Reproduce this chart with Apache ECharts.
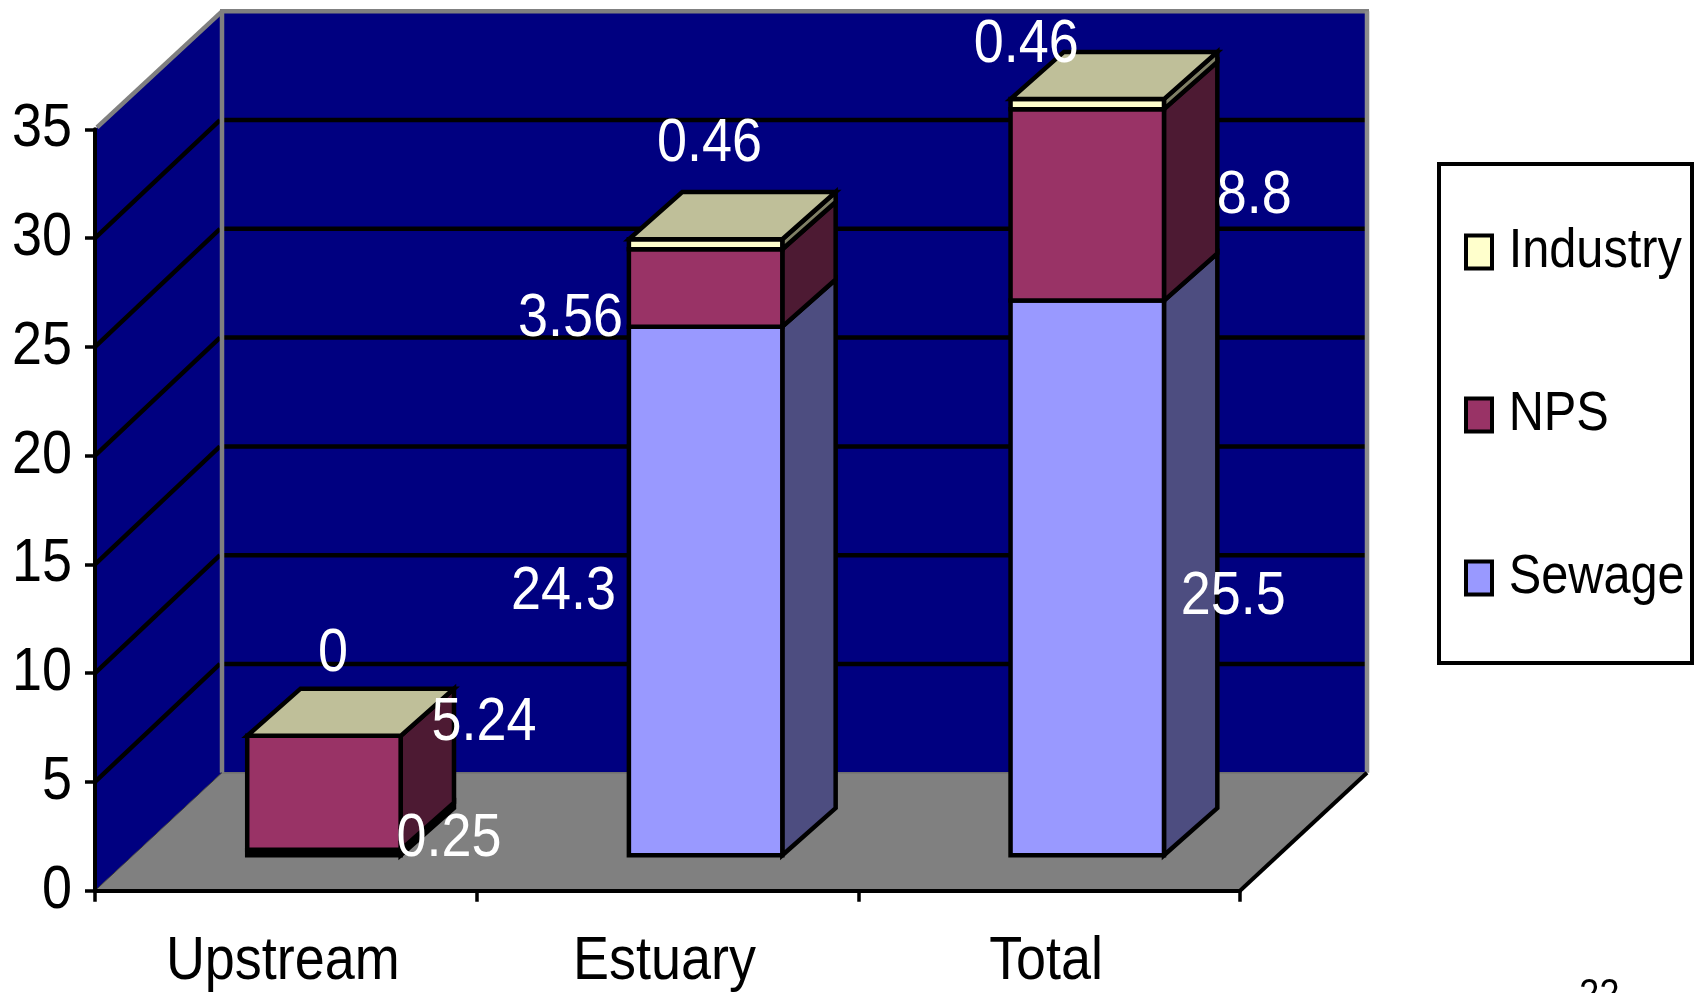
<!DOCTYPE html>
<html>
<head>
<meta charset="utf-8">
<title>Load by source</title>
<style>
  html, body { margin: 0; padding: 0; background: #fff; overflow: hidden; }
  #chart { width: 1703px; height: 993px; }
</style>
<script src="https://cdn.jsdelivr.net/npm/echarts@6/dist/echarts.min.js"></script>
</head>
<body>
<div id="chart"></div>
<script>
// Chart data
const categories = ['Upstream', 'Estuary', 'Total'];
const sewage = [0.25, 24.3, 25.5];
const nps = [5.24, 3.56, 8.8];
const industry = [0, 0.46, 0.46];
const yTicks = [0, 5, 10, 15, 20, 25, 30, 35];

// Where each value label sits relative to the middle of its segment
const sewageLabelShift = [[125, -14], [-142, 1], [146, 19]];
const npsLabelShift = [[160, -70], [-135, 31], [167, -9]];
const industryLabelShift = [[9, -82], [4, -100], [-61, -59]];

const FONT = '"Liberation Sans", Arial, sans-serif';
const TEXT_CONDENSE = 0.87;                // all lettering is set slightly condensed
const DEPTH_X = 127, DEPTH_Y = 118;        // oblique projection of the full floor depth
const BAR_FRONT = 0.3;                     // front bar face as a fraction of that depth
const BAR_BACK_X = 0.72, BAR_BACK_Y = 0.7; // back bar face, horizontally and vertically
const BAR_WIDTH = 0.402;                   // bar width as a fraction of the category band
const LINE = 4.5;

const layers = [
  { name: 'Sewage', values: sewage, shift: sewageLabelShift, front: '#9999FF', side: '#4D4D80', top: '#7373BF' },
  { name: 'NPS', values: nps, shift: npsLabelShift, front: '#993366', side: '#4D1A33', top: '#73264D' },
  { name: 'Industry', values: industry, shift: industryLabelShift, front: '#FFFFCC', side: '#808066', top: '#BFBF99' }
];

function poly(points, fill, z2) {
  return {
    type: 'polygon', z2: z2 || 0,
    shape: { points },
    style: { fill, stroke: '#000', lineWidth: LINE, lineJoin: 'miter' }
  };
}

function line(x1, y1, x2, y2, stroke, width, z2) {
  return {
    type: 'line', z2: z2 || 1,
    shape: { x1, y1, x2, y2 },
    style: { stroke, lineWidth: width, lineCap: 'butt' }
  };
}

// Walls, floor and gridlines of the 3D box, one element group per y tick
function renderBox(params, api) {
  const tick = api.value(0);
  const g = params.coordSys;
  const y = api.coord([0, tick])[1];
  const L = g.x, R = g.x + g.width, T = g.y, B = g.y + g.height;
  const kids = [];
  if (params.dataIndex === 0) {
    const navy = '#000080', grey = '#808080';
    kids.push({
      type: 'polygon',
      shape: { points: [[L, T], [L + DEPTH_X, T - DEPTH_Y], [L + DEPTH_X, B - DEPTH_Y], [L, B]] },
      style: { fill: navy }
    });
    kids.push({
      type: 'rect',
      shape: { x: L + DEPTH_X, y: T - DEPTH_Y, width: g.width, height: g.height },
      style: { fill: navy }
    });
    kids.push({
      type: 'polygon',
      shape: { points: [[L, B], [R, B], [R + DEPTH_X, B - DEPTH_Y], [L + DEPTH_X, B - DEPTH_Y]] },
      style: { fill: grey }
    });
    kids.push(line(L + DEPTH_X, B - DEPTH_Y, R + DEPTH_X, B - DEPTH_Y, '#6f6f6f', 1.5, 2));
    kids.push(line(L + 2, T - 2, L + DEPTH_X, T - DEPTH_Y, grey, 4.5, 3));
    kids.push(line(L + DEPTH_X - 2, T - DEPTH_Y, R + DEPTH_X + 2, T - DEPTH_Y, grey, 4.5, 3));
    kids.push(line(L + DEPTH_X, T - DEPTH_Y, L + DEPTH_X, B - DEPTH_Y, grey, 4.5, 3));
    kids.push(line(R + DEPTH_X, T - DEPTH_Y, R + DEPTH_X, B - DEPTH_Y, '#8c8c8c', 4.5, 3));
    kids.push(line(L, B, L + DEPTH_X, B - DEPTH_Y, '#3a3a3a', 1, 3));
    kids.push(line(R, B, R + DEPTH_X, B - DEPTH_Y, '#000', 4, 3));
  } else if (tick < yTicks[yTicks.length - 1]) {
    kids.push(line(L, y, L + DEPTH_X - 2, y - DEPTH_Y, '#000', 4.5, 2));
    kids.push(line(L + DEPTH_X + 2, y - DEPTH_Y, R + DEPTH_X - 2, y - DEPTH_Y, '#000', 4.5, 2));
  }
  return { type: 'group', children: kids };
}

// One stacked segment: front, side and top faces plus its value label
function renderLayer(layerIndex) {
  return function (params, api) {
    const layer = layers[layerIndex];
    const i = params.dataIndex;
    const value = api.value(1);
    let base = 0;
    for (let k = 0; k < layerIndex; k++) base += layers[k].values[i];
    const p0 = api.coord([i, base]);
    const p1 = api.coord([i, base + value]);
    const half = api.size([1, 0])[0] * BAR_WIDTH / 2;
    const cx = p0[0] + DEPTH_X * BAR_FRONT;
    const yB = p0[1] - DEPTH_Y * BAR_FRONT;
    const yT = p1[1] - DEPTH_Y * BAR_FRONT;
    const xL = cx - half, xR = cx + half;
    const bx = DEPTH_X * (BAR_BACK_X - BAR_FRONT);
    const by = DEPTH_Y * (BAR_BACK_Y - BAR_FRONT);
    // A slab thinner than its own outline shows only the outline
    const thin = yB - yT < 2 * LINE;
    const kids = [
      poly([[xR, yB], [xR + bx, yB - by], [xR + bx, yT - by], [xR, yT]], thin ? '#000' : layer.side),
      poly([[xL, yB], [xR, yB], [xR, yT], [xL, yT]], thin ? '#000' : layer.front, 1)
    ];
    if (layerIndex === layers.length - 1) {
      kids.push(poly([[xL, yT], [xR, yT], [xR + bx, yT - by], [xL + bx, yT - by]], layer.top, 2));
    }
    kids.push({
      type: 'text', z2: 100,
      x: cx + layer.shift[i][0],
      y: (yB + yT) / 2 + layer.shift[i][1],
      style: {
        text: String(value),
        fill: '#fff',
        font: '62px ' + FONT,
        align: 'center',
        verticalAlign: 'middle'
      }
    });
    return { type: 'group', children: kids };
  };
}

const barSeries = layers.map((layer, n) => ({
  name: layer.name,
  type: 'custom',
  z: 6,
  itemStyle: { color: layer.front },
  encode: { x: 0, y: 1 },
  data: layer.values.map((v, i) => [i, v]),
  renderItem: renderLayer(n),
  clip: false,
  silent: true
}));

const chart = echarts.init(document.getElementById('chart'), null, { renderer: 'canvas' });
chart.setOption({
  animation: false,
  backgroundColor: '#fff',
  textStyle: { fontFamily: FONT },
  grid: { left: 95, top: 129.3, right: 463, bottom: 102.3, containLabel: false },
  xAxis: {
    type: 'category',
    data: categories,
    z: 5,
    boundaryGap: true,
    axisLine: { show: true, lineStyle: { color: '#000', width: 4 } },
    axisTick: { show: true, alignWithLabel: false, length: 11, lineStyle: { color: '#000', width: 3.5 } },
    axisLabel: { color: '#000', fontSize: 62, fontFamily: FONT, margin: 40, interval: 0, padding: [0, 7, 0, 0] },
    splitLine: { show: false }
  },
  yAxis: {
    type: 'value',
    min: 0,
    max: 35,
    interval: 5,
    z: 5,
    axisLine: { show: true, lineStyle: { color: '#000', width: 4 } },
    axisTick: { show: true, length: 10, lineStyle: { color: '#000', width: 3.5 } },
    axisLabel: { color: '#000', fontSize: 62, fontFamily: FONT, margin: 23, padding: [5, 0, 0, 0] },
    splitLine: { show: false }
  },
  legend: {
    orient: 'vertical',
    left: 1464,
    top: 220,
    data: ['Industry', 'NPS', 'Sewage'],
    icon: 'rect',
    itemWidth: 26,
    itemHeight: 33,
    itemGap: 99,
    padding: 0,
    selectedMode: false,
    itemStyle: { borderColor: '#000', borderWidth: 4 },
    textStyle: { color: '#000', fontSize: 56, fontFamily: FONT, lineHeight: 58, padding: [6, 0, 0, 18] }
  },
  graphic: [
    {
      type: 'rect',
      z: 1,
      shape: { x: 1439, y: 164, width: 253, height: 499 },
      style: { fill: '#fff', stroke: '#000', lineWidth: 4 }
    },
    {
      type: 'text',
      left: 1579,
      top: 975,
      style: { text: '22', fill: '#000', font: '42px ' + FONT }
    }
  ],
  series: [
    {
      name: 'box',
      type: 'custom',
      z: 1,
      silent: true,
      clip: false,
      encode: { y: 0 },
      data: yTicks.map(t => [t]),
      renderItem: renderBox
    }
  ].concat(barSeries)
});

// Condense every text element about its own anchor point
const zr = chart.getZr();
zr.storage.traverse(function (el) {
  if (el instanceof echarts.graphic.Text) {
    el.scaleX = TEXT_CONDENSE;
    el.markRedraw();
  }
});
zr.refreshImmediately();
</script>
</body>
</html>
